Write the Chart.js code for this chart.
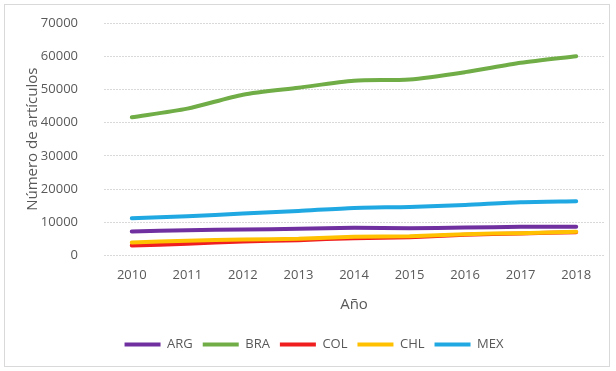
<!DOCTYPE html>
<html>
<head>
<meta charset="utf-8">
<script src="https://cdn.jsdelivr.net/npm/chart.js@4"></script>
<style>
  html, body { margin: 0; padding: 0; background: #fff; }
  #frame { position: absolute; left: 4px; top: 4px; width: 604px; height: 361px; border: 1px solid #d9d9d9; }
  #wrap { position: absolute; left: 0; top: 0; width: 616px; height: 371px; }
</style>
</head>
<body>
<div id="frame"></div>
<div id="wrap"><canvas id="myChart"></canvas></div>
<script>
    // Datos
    var years = ["2010", "2011", "2012", "2013", "2014", "2015", "2016", "2017", "2018"];
    var arg = [7200, 7600, 7800, 8000, 8300, 8200, 8400, 8600, 8600];
    var bra = [41600, 44200, 48400, 50500, 52600, 53000, 55200, 58000, 60000];
    var col = [3000, 3500, 4200, 4600, 5200, 5500, 6200, 6600, 7000];
    var chl = [3900, 4400, 4800, 5000, 5600, 5800, 6400, 6700, 7100];
    var mex = [11200, 11800, 12600, 13400, 14300, 14600, 15200, 16000, 16300];

    var gris = '#595959';
    var fuente = "'Open Sans', sans-serif";

    function serie(label, color, values, order) {
      return {
        label: label,
        data: values,
        borderColor: color,
        backgroundColor: color,
        borderWidth: 4,
        pointRadius: 0,
        tension: 0.25,
        borderCapStyle: 'round',
        order: order
      };
    }

    var data = {
      labels: years,
      datasets: [
        serie("ARG", '#7030A0', arg, 4),
        serie("BRA", '#70AD47', bra, 3),
        serie("COL", '#F01E1E', col, 2),
        serie("CHL", '#FFC000', chl, 1),
        serie("MEX", '#1FA8E2', mex, 0)
      ]
    };

    var options = {
      responsive: true,
      maintainAspectRatio: false,
      animation: false,
      layout: { padding: { left: 24, right: 12, top: 2, bottom: 10 } },
      scales: {
        x: {
          offset: true,
          grid: { display: false, drawTicks: false },
          border: { display: false },
          ticks: { color: gris, font: { family: fuente, size: 13 }, padding: 12 },
          title: { display: true, text: 'Año', color: gris, font: { family: fuente, size: 15 }, padding: { top: 1, bottom: 14 } }
        },
        y: {
          min: 0,
          max: 70000,
          grid: { color: '#d9d9d9', drawTicks: false },
          border: { display: false, dash: [2, 1] },
          ticks: {
            stepSize: 10000,
            color: gris,
            font: { family: fuente, size: 13 },
            padding: 26,
            callback: function (v) { return String(v); }
          },
          title: { display: true, text: 'Número de artículos', color: gris, font: { family: fuente, size: 15 }, padding: 0 },
          afterFit: function (scale) {
            scale.width = 80;
            scale.paddingTop = 23;
          }
        }
      },
      plugins: {
        legend: {
          position: 'bottom',
          labels: {
            usePointStyle: true,
            pointStyle: 'line',
            pointStyleWidth: 36,
            color: gris,
            font: { family: fuente, size: 13 },
            padding: 10,
            sort: function (a, b) { return a.datasetIndex - b.datasetIndex; }
          }
        },
        tooltip: { enabled: false }
      }
    };

    var ctx = document.getElementById('myChart').getContext('2d');
    var myChart = new Chart(ctx, { type: 'line', data: data, options: options });
</script>
</body>
</html>
